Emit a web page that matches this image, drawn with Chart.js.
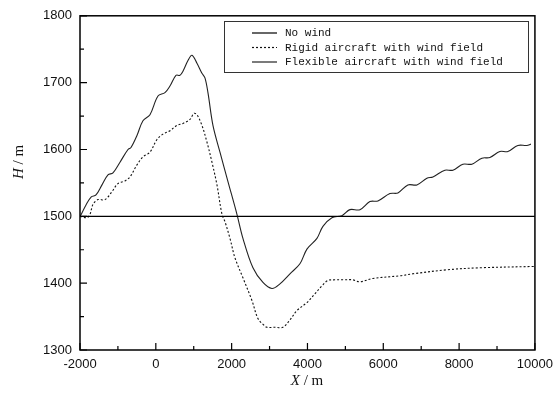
<!DOCTYPE html>
<html>
<head>
<meta charset="utf-8">
<script src="https://cdn.jsdelivr.net/npm/chart.js@4.4.0/dist/chart.umd.min.js"></script>
<style>
  html, body { margin: 0; padding: 0; background: #fff; }
  #wrap { width: 560px; height: 398px; }
</style>
</head>
<body>
<div id="wrap"><canvas id="heightChart" width="560" height="398"></canvas></div>
<script>
// legend labels
const seriesLabels = ["No wind", "Rigid aircraft with wind field", "Flexible aircraft with wind field"];

// no wind: level flight
const noWindX = [-2000, 10000];
const noWindH = [1500, 1500];

// rigid aircraft with wind field (dotted)
const rigidX = [-2000, -1815, -1736, -1657, -1525, -1341, -1156, -998, -813, -682, -497, -339, -154, 30, 189, 373, 558, 716, 901, 1006, 1085, 1217, 1349, 1481, 1613, 1745, 1824, 1956, 2087, 2298, 2536, 2694, 2853, 2931, 3142, 3353, 3538, 3722, 3986, 4195, 4380, 4540, 4724, 4935, 5200, 5384, 5726, 6438, 6781, 7678, 8548, 10000];
const rigidH = [1500, 1498, 1503, 1518, 1525, 1525, 1537, 1549, 1553, 1559, 1577, 1589, 1596, 1615, 1623, 1628, 1636, 1639, 1645, 1654, 1652, 1636, 1611, 1581, 1547, 1503, 1492, 1467, 1438, 1408, 1374, 1347, 1337, 1334, 1334, 1334, 1345, 1359, 1371, 1384, 1396, 1404, 1405, 1405, 1405, 1402, 1407, 1411, 1414, 1420, 1423, 1425];

// flexible aircraft with wind field (solid, wavy)
const flexX = [-2000, -1966, -1842, -1702, -1578, -1420, -1262, -1130, -945, -734, -655, -497, -339, -154, 57, 241, 373, 531, 637, 716, 848, 953, 1085, 1217, 1296, 1375, 1507, 1692, 1903, 2140, 2298, 2562, 2826, 3063, 3274, 3538, 3801, 3986, 4250, 4408, 4645, 4909, 5120, 5384, 5647, 5858, 6175, 6386, 6649, 6887, 7150, 7309, 7625, 7836, 8100, 8337, 8601, 8812, 9075, 9286, 9550, 9787, 9893];
const flexH = [1500, 1503, 1517, 1529, 1532, 1547, 1562, 1565, 1581, 1600, 1603, 1621, 1643, 1652, 1680, 1685, 1695, 1711, 1711, 1717, 1733, 1741, 1729, 1714, 1707, 1685, 1636, 1596, 1552, 1503, 1467, 1423, 1401, 1392, 1399, 1414, 1429, 1451, 1467, 1485, 1498, 1501, 1510, 1510, 1522, 1523, 1534, 1535, 1547, 1547, 1557, 1559, 1569, 1569, 1578, 1578, 1587, 1588, 1597, 1597, 1606, 1606, 1608];

// axis ticks
const xTicks = [-2000, 0, 2000, 4000, 6000, 8000, 10000];
const xMinorTicks = [-1000, 1000, 3000, 5000, 7000, 9000];
const yTicks = [1300, 1400, 1500, 1600, 1700, 1800];
const yMinorTicks = [1350, 1450, 1550, 1650, 1750];

function toPoints(xs, ys) {
    return xs.map((x, i) => ({ x: x, y: ys[i] }));
}

const framePlugin = {
    id: "frame",
    afterDatasetsDraw(chart) {
        const ctx = chart.ctx;
        const a = chart.chartArea;
        const xs = chart.scales.x;
        const ys = chart.scales.y;
        ctx.save();

        // box round the plot
        ctx.strokeStyle = "#000";
        ctx.lineWidth = 1.5;
        ctx.strokeRect(a.left, a.top, a.right - a.left, a.bottom - a.top);

        // inward ticks
        ctx.lineWidth = 1.2;
        ctx.beginPath();
        xTicks.forEach(v => { const p = xs.getPixelForValue(v); ctx.moveTo(p, a.bottom); ctx.lineTo(p, a.bottom - 7); });
        xMinorTicks.forEach(v => { const p = xs.getPixelForValue(v); ctx.moveTo(p, a.bottom); ctx.lineTo(p, a.bottom - 4); });
        yTicks.forEach(v => { const p = ys.getPixelForValue(v); ctx.moveTo(a.left, p); ctx.lineTo(a.left + 7, p); });
        yMinorTicks.forEach(v => { const p = ys.getPixelForValue(v); ctx.moveTo(a.left, p); ctx.lineTo(a.left + 4, p); });
        ctx.stroke();

        // legend
        const lx = 224, ly = 21, lw = 304, lh = 51;
        ctx.fillStyle = "#fff";
        ctx.fillRect(lx, ly, lw, lh);
        ctx.strokeStyle = "#333";
        ctx.lineWidth = 1;
        ctx.strokeRect(lx + 0.5, ly + 0.5, lw, lh);
        ctx.font = "11px 'Liberation Mono', monospace";
        ctx.textBaseline = "middle";
        ctx.textAlign = "left";
        chart.data.datasets.forEach((ds, i) => {
            const yy = 33 + i * 14.5;
            ctx.strokeStyle = ds.borderColor;
            ctx.lineWidth = 1.2;
            ctx.setLineDash(ds.borderDash || []);
            ctx.beginPath();
            ctx.moveTo(252, yy);
            ctx.lineTo(277, yy);
            ctx.stroke();
            ctx.setLineDash([]);
            ctx.fillStyle = "#111";
            ctx.fillText(ds.label, 285, yy + 0.5);
        });

        // axis titles with italic symbol
        ctx.fillStyle = "#111";
        ctx.textBaseline = "middle";
        const drawTitle = (sym, rest, cx, cy) => {
            ctx.font = "italic 15px 'Liberation Serif', serif";
            const w1 = ctx.measureText(sym).width;
            ctx.font = "15px 'Liberation Serif', serif";
            const w2 = ctx.measureText(rest).width;
            let x0 = cx - (w1 + w2) / 2;
            ctx.font = "italic 15px 'Liberation Serif', serif";
            ctx.fillText(sym, x0, cy);
            ctx.font = "15px 'Liberation Serif', serif";
            ctx.fillText(rest, x0 + w1, cy);
        };
        ctx.textAlign = "left";
        drawTitle("X", " / m", 307, 381);
        ctx.translate(19, 162);
        ctx.rotate(-Math.PI / 2);
        drawTitle("H", " / m", 0, 0);

        ctx.restore();
    }
};

const canvas = document.getElementById("heightChart");
const ctx = canvas.getContext("2d");

new Chart(ctx, {
    type: "line",
    data: {
        datasets: [{
            label: seriesLabels[0],
            data: toPoints(noWindX, noWindH),
            borderColor: "#000",
            borderWidth: 1.2,
            pointRadius: 0,
            fill: false
        }, {
            label: seriesLabels[1],
            data: toPoints(rigidX, rigidH),
            borderColor: "#111",
            borderWidth: 1.1,
            borderDash: [2, 2],
            pointRadius: 0,
            fill: false,
            tension: 0.35
        }, {
            label: seriesLabels[2],
            data: toPoints(flexX, flexH),
            borderColor: "#222",
            borderWidth: 1.1,
            pointRadius: 0,
            fill: false,
            tension: 0.35
        }]
    },
    options: {
        responsive: false,
        animation: false,
        devicePixelRatio: 1,
        layout: { padding: { left: 0, right: 25, top: 12, bottom: 0 } },
        plugins: {
            legend: { display: false },
            tooltip: { enabled: false }
        },
        scales: {
            x: {
                type: "linear",
                min: -2000,
                max: 10000,
                afterBuildTicks: s => { s.ticks = xTicks.map(v => ({ value: v })); },
                afterFit: s => { s.height = 48; },
                grid: { display: false, drawTicks: false },
                border: { display: false },
                ticks: {
                    padding: 7,
                    color: "#111",
                    maxRotation: 0,
                    callback: v => String(v),
                    font: { family: "'Liberation Sans', Arial, sans-serif", size: 13 }
                }
            },
            y: {
                type: "linear",
                min: 1300,
                max: 1800,
                afterBuildTicks: s => { s.ticks = yTicks.map(v => ({ value: v })); },
                afterFit: s => { s.width = 80; },
                grid: { display: false, drawTicks: false },
                border: { display: false },
                ticks: {
                    padding: 8,
                    color: "#111",
                    callback: v => String(v),
                    font: { family: "'Liberation Sans', Arial, sans-serif", size: 13 }
                }
            }
        }
    },
    plugins: [framePlugin]
});
</script>
</body>
</html>
